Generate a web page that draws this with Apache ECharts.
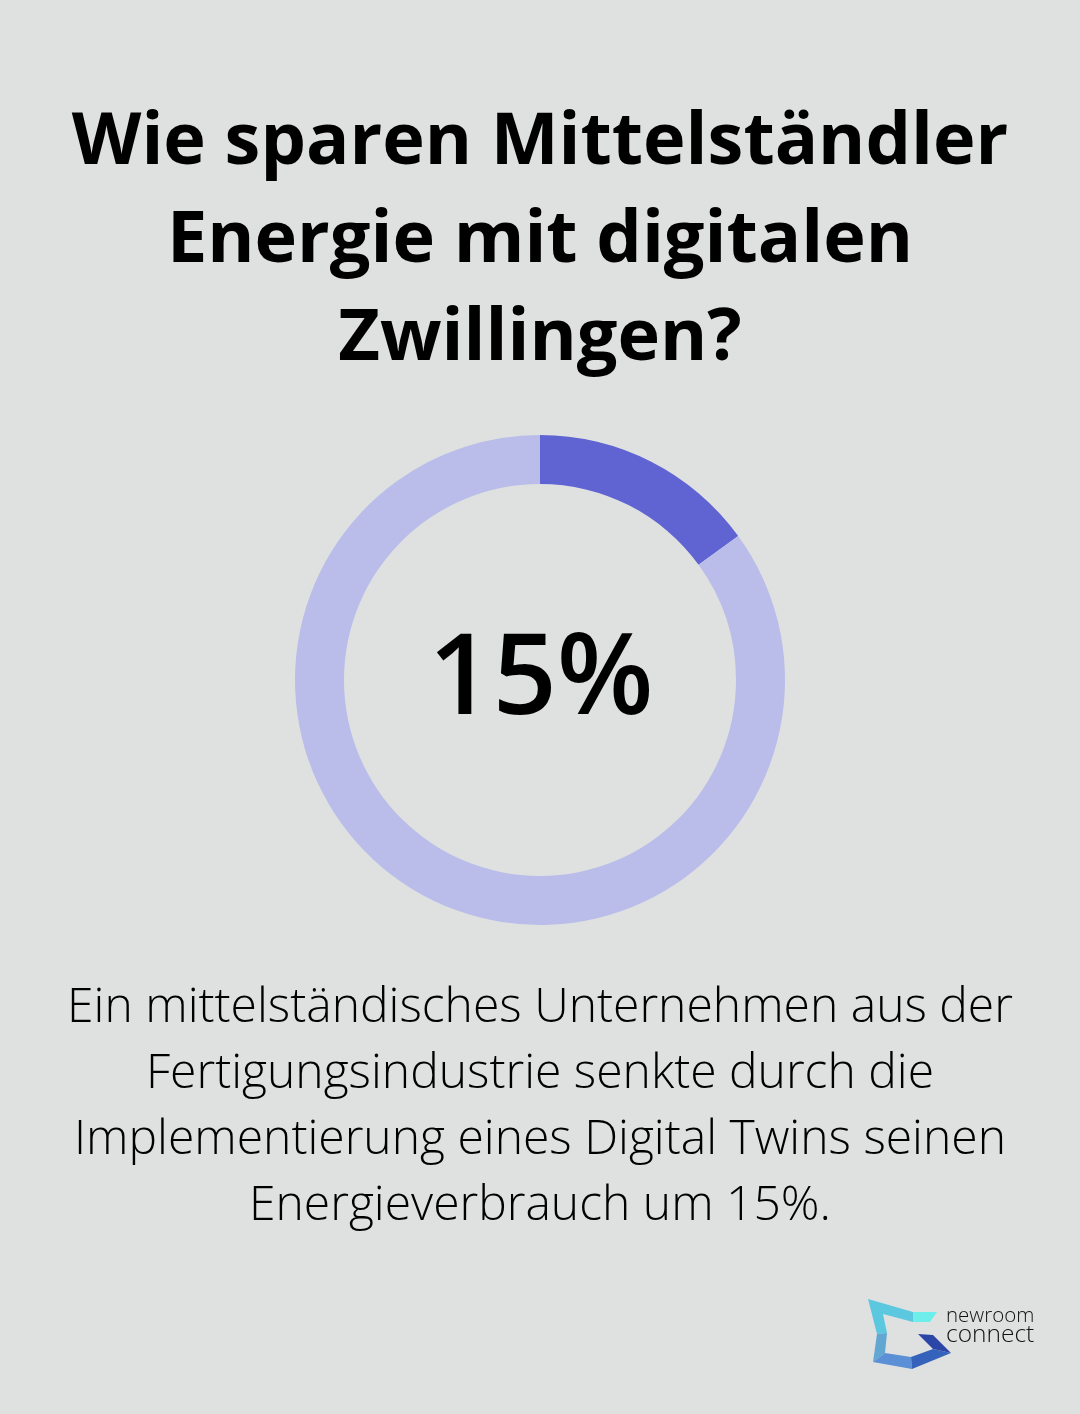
<!DOCTYPE html>
<html>
<head>
<meta charset="utf-8">
<title>Digitale Zwillinge</title>
<script src="https://cdn.jsdelivr.net/npm/echarts@6/dist/echarts.min.js"></script>
<style>
html, body { margin: 0; padding: 0; background: #dfe1e0; }
#chart { width: 1080px; height: 1414px; }
</style>
</head>
<body>
<div id="chart"></div>
<script>
const sliceNames = ['Einsparung', 'Rest'];
const sliceValues = [15, 85];
const sliceColors = ['#6064d2', '#babdea'];
const titleLines = ['Wie sparen Mittelständler', 'Energie mit digitalen', 'Zwillingen?'];
const bodyLines = [
    'Ein mittelständisches Unternehmen aus der',
    'Fertigungsindustrie senkte durch die',
    'Implementierung eines Digital Twins seinen',
    'Energieverbrauch um 15%.'
];
const centerLabel = '15%';
const logoLines = ['newroom', 'connect'];
const logoSizes = [20.5, 24.5];

const FONT = '"Open Sans", sans-serif';
const chart = echarts.init(document.getElementById('chart'), null, { renderer: 'canvas' });

const titleTexts = titleLines.map((line, i) => ({
    type: 'text', x: 540, y: 143 + i * 98,
    style: { text: line, font: '700 72px ' + FONT, fill: '#000', align: 'center', verticalAlign: 'middle' }
}));
const bodyTexts = bodyLines.map((line, i) => ({
    type: 'text', x: 540, y: 1008 + i * 66,
    style: { text: line, font: '300 48px ' + FONT, fill: '#000', align: 'center', verticalAlign: 'middle' }
}));
const logoTexts = logoLines.map((line, i) => ({
    type: 'text', x: 946, y: 1316 + i * 19,
    style: { text: line, font: '300 ' + logoSizes[i] + 'px ' + FONT, fill: '#111', align: 'left', verticalAlign: 'middle' }
}));

// logo mark
const logoParts = [
    [[[868,1299],[913,1312],[913,1322],[883,1314],[887,1333],[877,1334]], '#5cc8e0'],
    [[[913,1312],[937,1312],[930,1322],[913,1322]], '#6eeeea'],
    [[[877,1334],[887,1333],[885,1353],[873,1362]], '#62a6d2'],
    [[[873,1362],[885,1353],[911,1357],[912,1369]], '#5b8fd6'],
    [[[911,1357],[933,1349],[951,1353],[912,1369]], '#3563bb'],
    [[[918,1334],[933,1335],[951,1353],[933,1349]], '#2c46a8']
];
const logoShapes = logoParts.map(([points, fill]) => ({
    type: 'polygon', shape: { points: points }, style: { fill: fill }
}));

chart.setOption({
    backgroundColor: '#dfe1e0',
    animation: false,
    series: [{
        type: 'pie',
        center: [540, 680],
        radius: [196, 245],
        startAngle: 90,
        silent: true,
        label: { show: false },
        labelLine: { show: false },
        data: sliceNames.map((name, i) => ({
            name: name, value: sliceValues[i], itemStyle: { color: sliceColors[i] }
        }))
    }],
    graphic: [
        ...titleTexts,
        { type: 'text', x: 541, y: 682,
          style: { text: centerLabel, font: '600 112px ' + FONT, fill: '#000', align: 'center', verticalAlign: 'middle' } },
        ...bodyTexts,
        ...logoShapes,
        ...logoTexts
    ]
});
</script>
</body>
</html>
